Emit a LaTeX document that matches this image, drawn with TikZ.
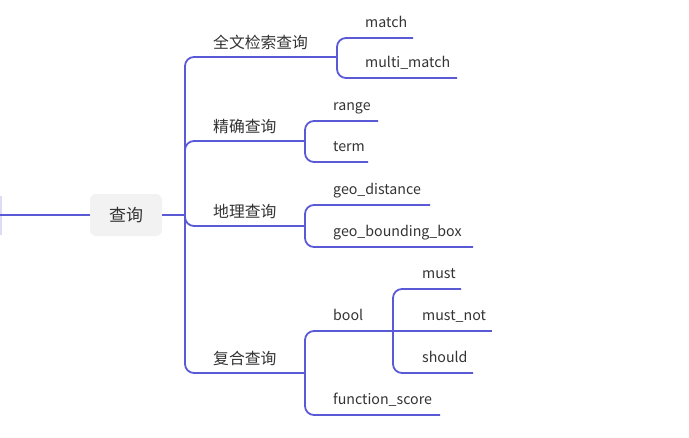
\documentclass[tikz,border=0pt]{standalone}
\usepackage{fontspec}
\setmainfont{Noto Sans CJK SC}
\definecolor{edge}{HTML}{5A5AD6}
\definecolor{faint}{HTML}{DCDCF6}
\definecolor{rootfill}{HTML}{F2F2F2}
\definecolor{txt}{HTML}{333333}
\begin{document}
\begin{tikzpicture}[x=1pt,y=-1pt,
  conn/.style={draw=edge,line width=1.8pt,rounded corners=9pt},
  lab/.style={anchor=base west,inner sep=0pt,text=txt,font=\fontsize{14.2}{16}\selectfont},
  cjk/.style={anchor=base west,inner sep=0pt,text=txt,font=\fontsize{15.8}{17}\selectfont},
  rootbox/.style={fill=rootfill,rounded corners=6pt,minimum width=72pt,minimum height=42pt,text=txt,font=\fontsize{17}{19}\selectfont,inner sep=0pt}]
\useasboundingbox (0,0) rectangle (689,437);
% root
\node[rootbox] (root) at (126,215) {查询};
\coordinate (L) at (0,215);
\coordinate (Ft) at (1,196);
\coordinate (Fb) at (1,235);
\draw[draw=faint,line width=1.5pt] (Ft) -- (Fb);
\draw[conn] (L) -- (root.west);
\coordinate (J) at (185,215);
\draw[conn] (root.east) -- (J);
% sub junctions
\coordinate (s1) at (337,57);
\coordinate (s2) at (305,141);
\coordinate (s3) at (305,226);
\coordinate (s4) at (305,373);
\coordinate (s5) at (393,331);
\draw[conn] (J) |- (s1);
\draw[conn] (J) |- (s2);
\draw[conn] (J) |- (s3);
\draw[conn] (J) |- (s4);
% leaf ends
\coordinate (e1) at (413,38);
\coordinate (e2) at (457,78);
\coordinate (e3) at (378,121);
\coordinate (e4) at (368,162);
\coordinate (e5) at (430,205);
\coordinate (e6) at (473,247);
\coordinate (e7) at (440,415);
\coordinate (e8) at (461,289);
\coordinate (e9) at (492,331);
\coordinate (e10) at (473,373);
\draw[conn] (s1) |- (e1);
\draw[conn] (s1) |- (e2);
\draw[conn] (s2) |- (e3);
\draw[conn] (s2) |- (e4);
\draw[conn] (s3) |- (e5);
\draw[conn] (s3) |- (e6);
\draw[conn] (s4) |- (s5);
\draw[conn] (s4) |- (e7);
\draw[conn] (s5) |- (e8);
\draw[conn] (s5) -- (e9);
\draw[conn] (s5) |- (e10);
% labels
\node[cjk] (c1) at (213,48) {全文检索查询};
\node[cjk] (c2) at (213,132) {精确查询};
\node[cjk] (c3) at (213,217) {地理查询};
\node[cjk] (c4) at (213,364) {复合查询};
\node[lab] (t1) at (365,27) {match};
\node[lab] (t2) at (365,67) {multi\_match};
\node[lab] (t3) at (333,110) {range};
\node[lab] (t4) at (333,151) {term};
\node[lab] (t5) at (333,194) {geo\_distance};
\node[lab] (t6) at (333,236) {geo\_bounding\_box};
\node[lab] (t7) at (333,320) {bool};
\node[lab] (t8) at (333,404) {function\_score};
\node[lab] (t9) at (422,278) {must};
\node[lab] (t10) at (422,320) {must\_not};
\node[lab] (t11) at (422,362) {should};
\end{tikzpicture}
\end{document}
